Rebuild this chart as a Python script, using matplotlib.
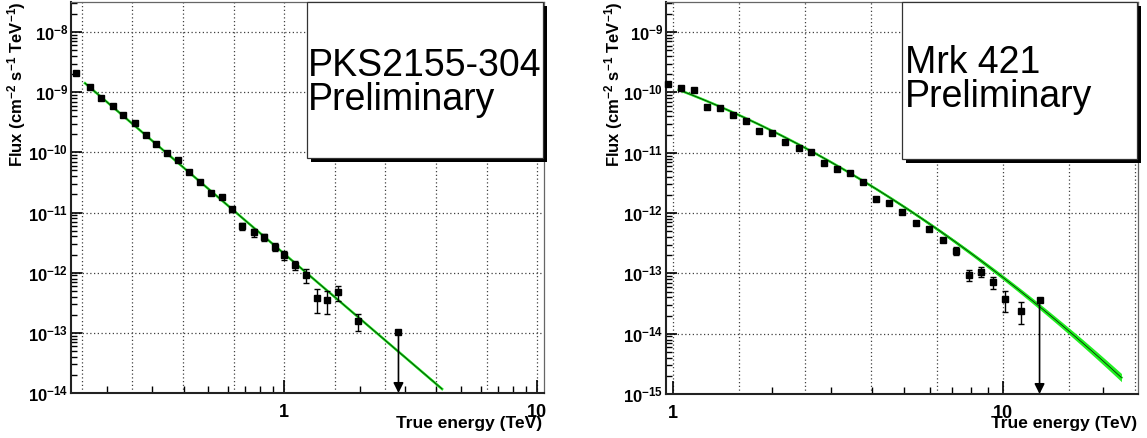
import numpy as np
import matplotlib
matplotlib.use("Agg")
import matplotlib.pyplot as plt
from matplotlib.patches import Rectangle
from matplotlib.transforms import offset_copy
from matplotlib.ticker import FixedLocator, FuncFormatter, NullFormatter

plt.rcParams['font.family'] = ['Liberation Sans', 'DejaVu Sans']
plt.rcParams['mathtext.fontset'] = 'custom'
plt.rcParams['mathtext.rm'] = 'Liberation Sans'
plt.rcParams['mathtext.bf'] = 'Liberation Sans:bold'
plt.rcParams['mathtext.it'] = 'Liberation Sans:italic'

# PKS2155-304 spectral points (TeV, cm-2 s-1 TeV-1)
pks_e = [0.150, 0.171, 0.189, 0.210, 0.230, 0.256, 0.284, 0.311, 0.345, 0.379,
         0.421, 0.463, 0.513, 0.565, 0.622, 0.681, 0.757, 0.832, 0.916, 1.00,
         1.10, 1.22, 1.35, 1.48, 1.63, 1.95]
pks_flux = [2.06e-9, 1.21e-9, 8.0e-10, 5.89e-10, 4.12e-10, 3.03e-10, 1.94e-10,
            1.38e-10, 9.87e-11, 7.46e-11, 4.76e-11, 3.25e-11, 2.13e-11, 1.83e-11,
            1.13e-11, 5.97e-12, 4.69e-12, 3.87e-12, 2.70e-12, 1.97e-12, 1.34e-12,
            9.1e-13, 3.75e-13, 3.52e-13, 4.7e-13, 1.59e-13]
pks_err = [6e-11, 4e-11, 2.5e-11, 1.8e-11, 1.3e-11, 1.0e-11, 7e-12, 5e-12, 4e-12,
           3.5e-12, 2.5e-12, 1.8e-12, 1.3e-12, 1.2e-12, 9e-13, 8.5e-13, 7.2e-13,
           4.5e-13, 4.2e-13, 3.4e-13, 2.3e-13, 2.3e-13, 1.6e-13, 1.5e-13, 1.3e-13,
           5.0e-14]
pks_ul_e = 2.83
pks_ul_flux = 1.02e-13
# power law fit: N (E/1TeV)^-index
pks_norm = 2.06e-12
pks_index = 3.60
pks_fit_range = (0.163, 4.21)

# Mrk 421 spectral points
mrk_e = [0.968, 1.057, 1.161, 1.27, 1.388, 1.523, 1.661, 1.82, 1.996, 2.18,
         2.40, 2.62, 2.86, 3.13, 3.44, 3.77, 4.12, 4.51, 4.95, 5.44, 5.97, 6.55,
         7.19, 7.89, 8.56, 9.31, 10.14, 11.28]
mrk_flux = [1.37e-10, 1.17e-10, 1.09e-10, 5.65e-11, 5.5e-11, 4.21e-11, 3.39e-11,
            2.29e-11, 2.14e-11, 1.52e-11, 1.21e-11, 1.04e-11, 6.82e-12, 5.36e-12,
            4.55e-12, 3.23e-12, 1.69e-12, 1.48e-12, 1.05e-12, 6.9e-13, 5.43e-13,
            3.57e-13, 2.37e-13, 9.4e-14, 1.06e-13, 7.1e-14, 3.71e-14, 2.40e-14]
mrk_err = [4e-12, 3e-12, 3e-12, 1.5e-12, 1.5e-12, 1.1e-12, 9e-13, 6e-13, 6e-13,
           4e-13, 3.5e-13, 3e-13, 2e-13, 1.6e-13, 1.4e-13, 1e-13, 6e-14, 6e-14,
           4.5e-14, 3.5e-14, 3e-14, 2.9e-14, 3.6e-14, 1.8e-14, 2.0e-14, 1.6e-14,
           1.45e-14, 9.4e-15]
mrk_ul_e = 12.88
mrk_ul_flux = 3.61e-14
# log-parabola fit: N E^(-alpha - beta log10 E)
mrk_norm = 1.2e-10
mrk_alpha = 2.06
mrk_beta = 1.09
mrk_fit_range = (1.04, 22.8)

W, H = 1147, 438
fig = plt.figure(figsize=(W / 100, H / 100), dpi=100)

ax1 = fig.add_axes([71 / W, 45 / H, 472.5 / W, 391 / H])
ax2 = fig.add_axes([666 / W, 44 / H, 471.5 / W, 392 / H])


def ytick_fmt(v, pos):
    return r'$\mathbf{10^{%d}}$' % round(np.log10(v))


def xtick_fmt(v, pos):
    return '%g' % v


def style_panel(ax, xlim, ylim, xgrid):
    ax.set_xscale('log')
    ax.set_yscale('log')
    ax.set_xlim(*xlim)
    ax.set_ylim(*ylim)
    for g in xgrid:
        ax.axvline(g, color='0.25', lw=0.9, ls=(0, (1, 2)), zorder=0)
    for k in range(int(np.log10(ylim[0])), int(np.ceil(np.log10(ylim[1])))):
        ax.axhline(10.0 ** k, color='0.25', lw=0.9, ls=(0, (1, 2)), zorder=0)
    ax.xaxis.set_major_locator(FixedLocator([1, 10]))
    ax.xaxis.set_minor_locator(FixedLocator([0.1 * m for m in range(2, 10)]
                                            + [m for m in range(2, 10)]
                                            + [10 * m for m in range(2, 10)]))
    ax.xaxis.set_major_formatter(FuncFormatter(xtick_fmt))
    ax.xaxis.set_minor_formatter(NullFormatter())
    ax.yaxis.set_major_formatter(FuncFormatter(ytick_fmt))
    ax.yaxis.set_minor_formatter(NullFormatter())
    ax.tick_params(axis='x', which='major', direction='in', length=9.4, width=1.2,
                   pad=8, labelsize=13)
    ax.tick_params(axis='x', which='minor', direction='in', length=5.4, width=1.0)
    ax.tick_params(axis='y', which='major', direction='in', length=7.9, width=1.2,
                   pad=2, labelsize=12)
    ax.tick_params(axis='y', which='minor', direction='in', length=4.3, width=1.0)
    for lab in ax.get_xticklabels():
        lab.set_fontweight('bold')
    for side in ['left', 'bottom']:
        ax.spines[side].set_linewidth(1.5)
        ax.spines[side].set_color('#222222')
    for side in ['top', 'right']:
        ax.spines[side].set_linewidth(0.9)
        ax.spines[side].set_color('#666666')


def draw_points(ax, e, f, err, ul_e, ul_f, ymin):
    ax.errorbar(e, f, yerr=err, fmt='s', ms=4.5, color='k', ecolor='k',
                elinewidth=1, capsize=2.5, capthick=1, zorder=4, clip_on=False)
    ax.plot([ul_e], [ul_f], 's', ms=4.5, color='k', zorder=4)
    ax.annotate('', xy=(ul_e, ymin), xytext=(ul_e, ul_f),
                arrowprops=dict(arrowstyle='-|>', color='k', lw=1.2,
                                mutation_scale=15, shrinkA=0, shrinkB=0),
                zorder=4)


def draw_band(ax, e, logf, sig):
    ax.fill_between(e, 10 ** (logf - sig), 10 ** (logf + sig), color='#22f022',
                    lw=0, zorder=2)
    ax.plot(e, 10 ** logf, color='#1ee81e', lw=1.8, zorder=2)
    ax.plot(e, 10 ** logf, color='k', lw=0.45, zorder=3)


def draw_box(ax, lines):
    shadow = Rectangle((0.5, 0.6), 0.498, 0.4,
                       transform=offset_copy(ax.transAxes, fig=fig, x=4, y=-4, units='dots'),
                       facecolor='black', edgecolor='none', zorder=5, clip_on=False)
    box = Rectangle((0.5, 0.6), 0.498, 0.4, transform=ax.transAxes,
                    facecolor='white', edgecolor='#333333', lw=0.9, zorder=6,
                    clip_on=False)
    ax.add_patch(shadow)
    ax.add_patch(box)
    for (tx, ty, s) in lines:
        ax.text(tx, ty, s, transform=ax.transAxes, fontsize=27, ha='left',
                va='baseline', zorder=7)


# left panel: PKS2155-304
style_panel(ax1, (0.1435, 10.6), (1e-14, 3.16e-8),
            [10 ** (0.2 * k) for k in range(-4, 6)])
e_fit = np.geomspace(*pks_fit_range, 200)
x = np.log10(e_fit)
logf = np.log10(pks_norm) - pks_index * x
sig = np.sqrt(0.004 ** 2 + (0.02 * (x + 0.3)) ** 2)
draw_band(ax1, e_fit, logf, sig)
draw_points(ax1, pks_e, pks_flux, pks_err, pks_ul_e, pks_ul_flux, 1e-14)
draw_box(ax1, [(0.5016, 0.8107, 'PKS2155-304'), (0.5016, 0.724, 'Preliminary')])

# right panel: Mrk 421
style_panel(ax2, (0.952, 25.5), (1e-15, 3.16e-9),
            [10 ** (0.2 * k) for k in range(0, 8)])
e_fit = np.geomspace(*mrk_fit_range, 200)
x = np.log10(e_fit)
logf = np.log10(mrk_norm) - mrk_alpha * x - mrk_beta * x ** 2
sig = np.sqrt(0.004 ** 2 + (0.015 * x) ** 2 + (0.035 * x ** 2) ** 2)
draw_band(ax2, e_fit, logf, sig)
draw_points(ax2, mrk_e, mrk_flux, mrk_err, mrk_ul_e, mrk_ul_flux, 1e-15)
draw_box(ax2, [(0.507, 0.819, 'Mrk 421'), (0.507, 0.732, 'Preliminary')])

ylab = r'Flux (cm$^{\mathbf{-2}}$ s$^{\mathbf{-1}}$ TeV$^{\mathbf{-1}}$)'
fig.text(17 / W, 0.998, ylab, rotation=90, ha='center', va='top',
         fontsize=12, fontweight='bold')
fig.text(614 / W, 0.998, ylab, rotation=90, ha='center', va='top',
         fontsize=12, fontweight='bold')
fig.text(542 / W, 10 / H, 'True energy (TeV)', ha='right', va='baseline',
         fontsize=12.5, fontweight='bold')
fig.text(1137 / W, 10 / H, 'True energy (TeV)', ha='right', va='baseline',
         fontsize=12.5, fontweight='bold')

fig.savefig('out.png', dpi=100)
